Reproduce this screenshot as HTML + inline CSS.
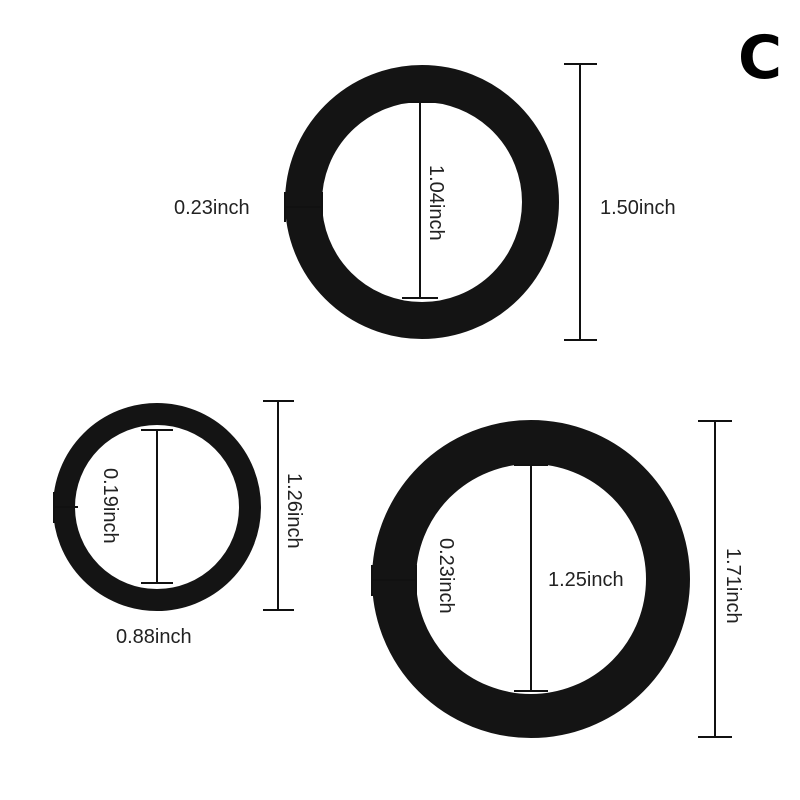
<!DOCTYPE html>
<html><head><style>body{margin:0;background:#fff}svg{display:block}</style></head><body>
<svg width="800" height="800" xmlns="http://www.w3.org/2000/svg" font-family="Liberation Sans, sans-serif" font-size="20" fill="#222">
<text x="738" y="78" font-size="60" font-weight="bold" fill="#000" font-family="DejaVu Sans, sans-serif">C</text>
<circle cx="422" cy="202" r="118.5" fill="none" stroke="#141414" stroke-width="37"/>
<g stroke="#111" stroke-width="2">
<line x1="420" y1="102" x2="420" y2="298"/><line x1="402" y1="102" x2="438" y2="102"/><line x1="402" y1="298" x2="438" y2="298"/>
<line x1="285" y1="207" x2="322" y2="207"/><line x1="285" y1="192" x2="285" y2="222"/><line x1="322" y1="192" x2="322" y2="222"/>
<line x1="580" y1="64" x2="580" y2="340"/><line x1="564" y1="64" x2="597" y2="64"/><line x1="564" y1="340" x2="597" y2="340"/>
</g>
<text x="174" y="214">0.23inch</text>
<text x="600" y="214">1.50inch</text>
<text transform="translate(430,165) rotate(90)">1.04inch</text>
<circle cx="157" cy="507" r="93" fill="none" stroke="#141414" stroke-width="22"/>
<g stroke="#111" stroke-width="2">
<line x1="157" y1="430" x2="157" y2="583"/><line x1="141" y1="430" x2="173" y2="430"/><line x1="141" y1="583" x2="173" y2="583"/>
<line x1="54" y1="507" x2="78" y2="507"/><line x1="54" y1="492" x2="54" y2="523"/>
<line x1="278" y1="401" x2="278" y2="610"/><line x1="263" y1="401" x2="294" y2="401"/><line x1="263" y1="610" x2="294" y2="610"/>
</g>
<text x="116" y="643">0.88inch</text>
<text transform="translate(104,468) rotate(90)">0.19inch</text>
<text transform="translate(288,473) rotate(90)">1.26inch</text>
<circle cx="531" cy="579" r="137" fill="none" stroke="#141414" stroke-width="44"/>
<g stroke="#111" stroke-width="2">
<line x1="531" y1="465" x2="531" y2="691"/><line x1="514" y1="465" x2="548" y2="465"/><line x1="514" y1="691" x2="548" y2="691"/>
<line x1="372" y1="580" x2="416" y2="580"/><line x1="372" y1="565" x2="372" y2="596"/><line x1="416" y1="565" x2="416" y2="596"/>
<line x1="715" y1="421" x2="715" y2="737"/><line x1="698" y1="421" x2="732" y2="421"/><line x1="698" y1="737" x2="732" y2="737"/>
</g>
<text x="548" y="586">1.25inch</text>
<text transform="translate(440,538) rotate(90)">0.23inch</text>
<text transform="translate(727,548) rotate(90)">1.71inch</text>
</svg>
</body></html>
